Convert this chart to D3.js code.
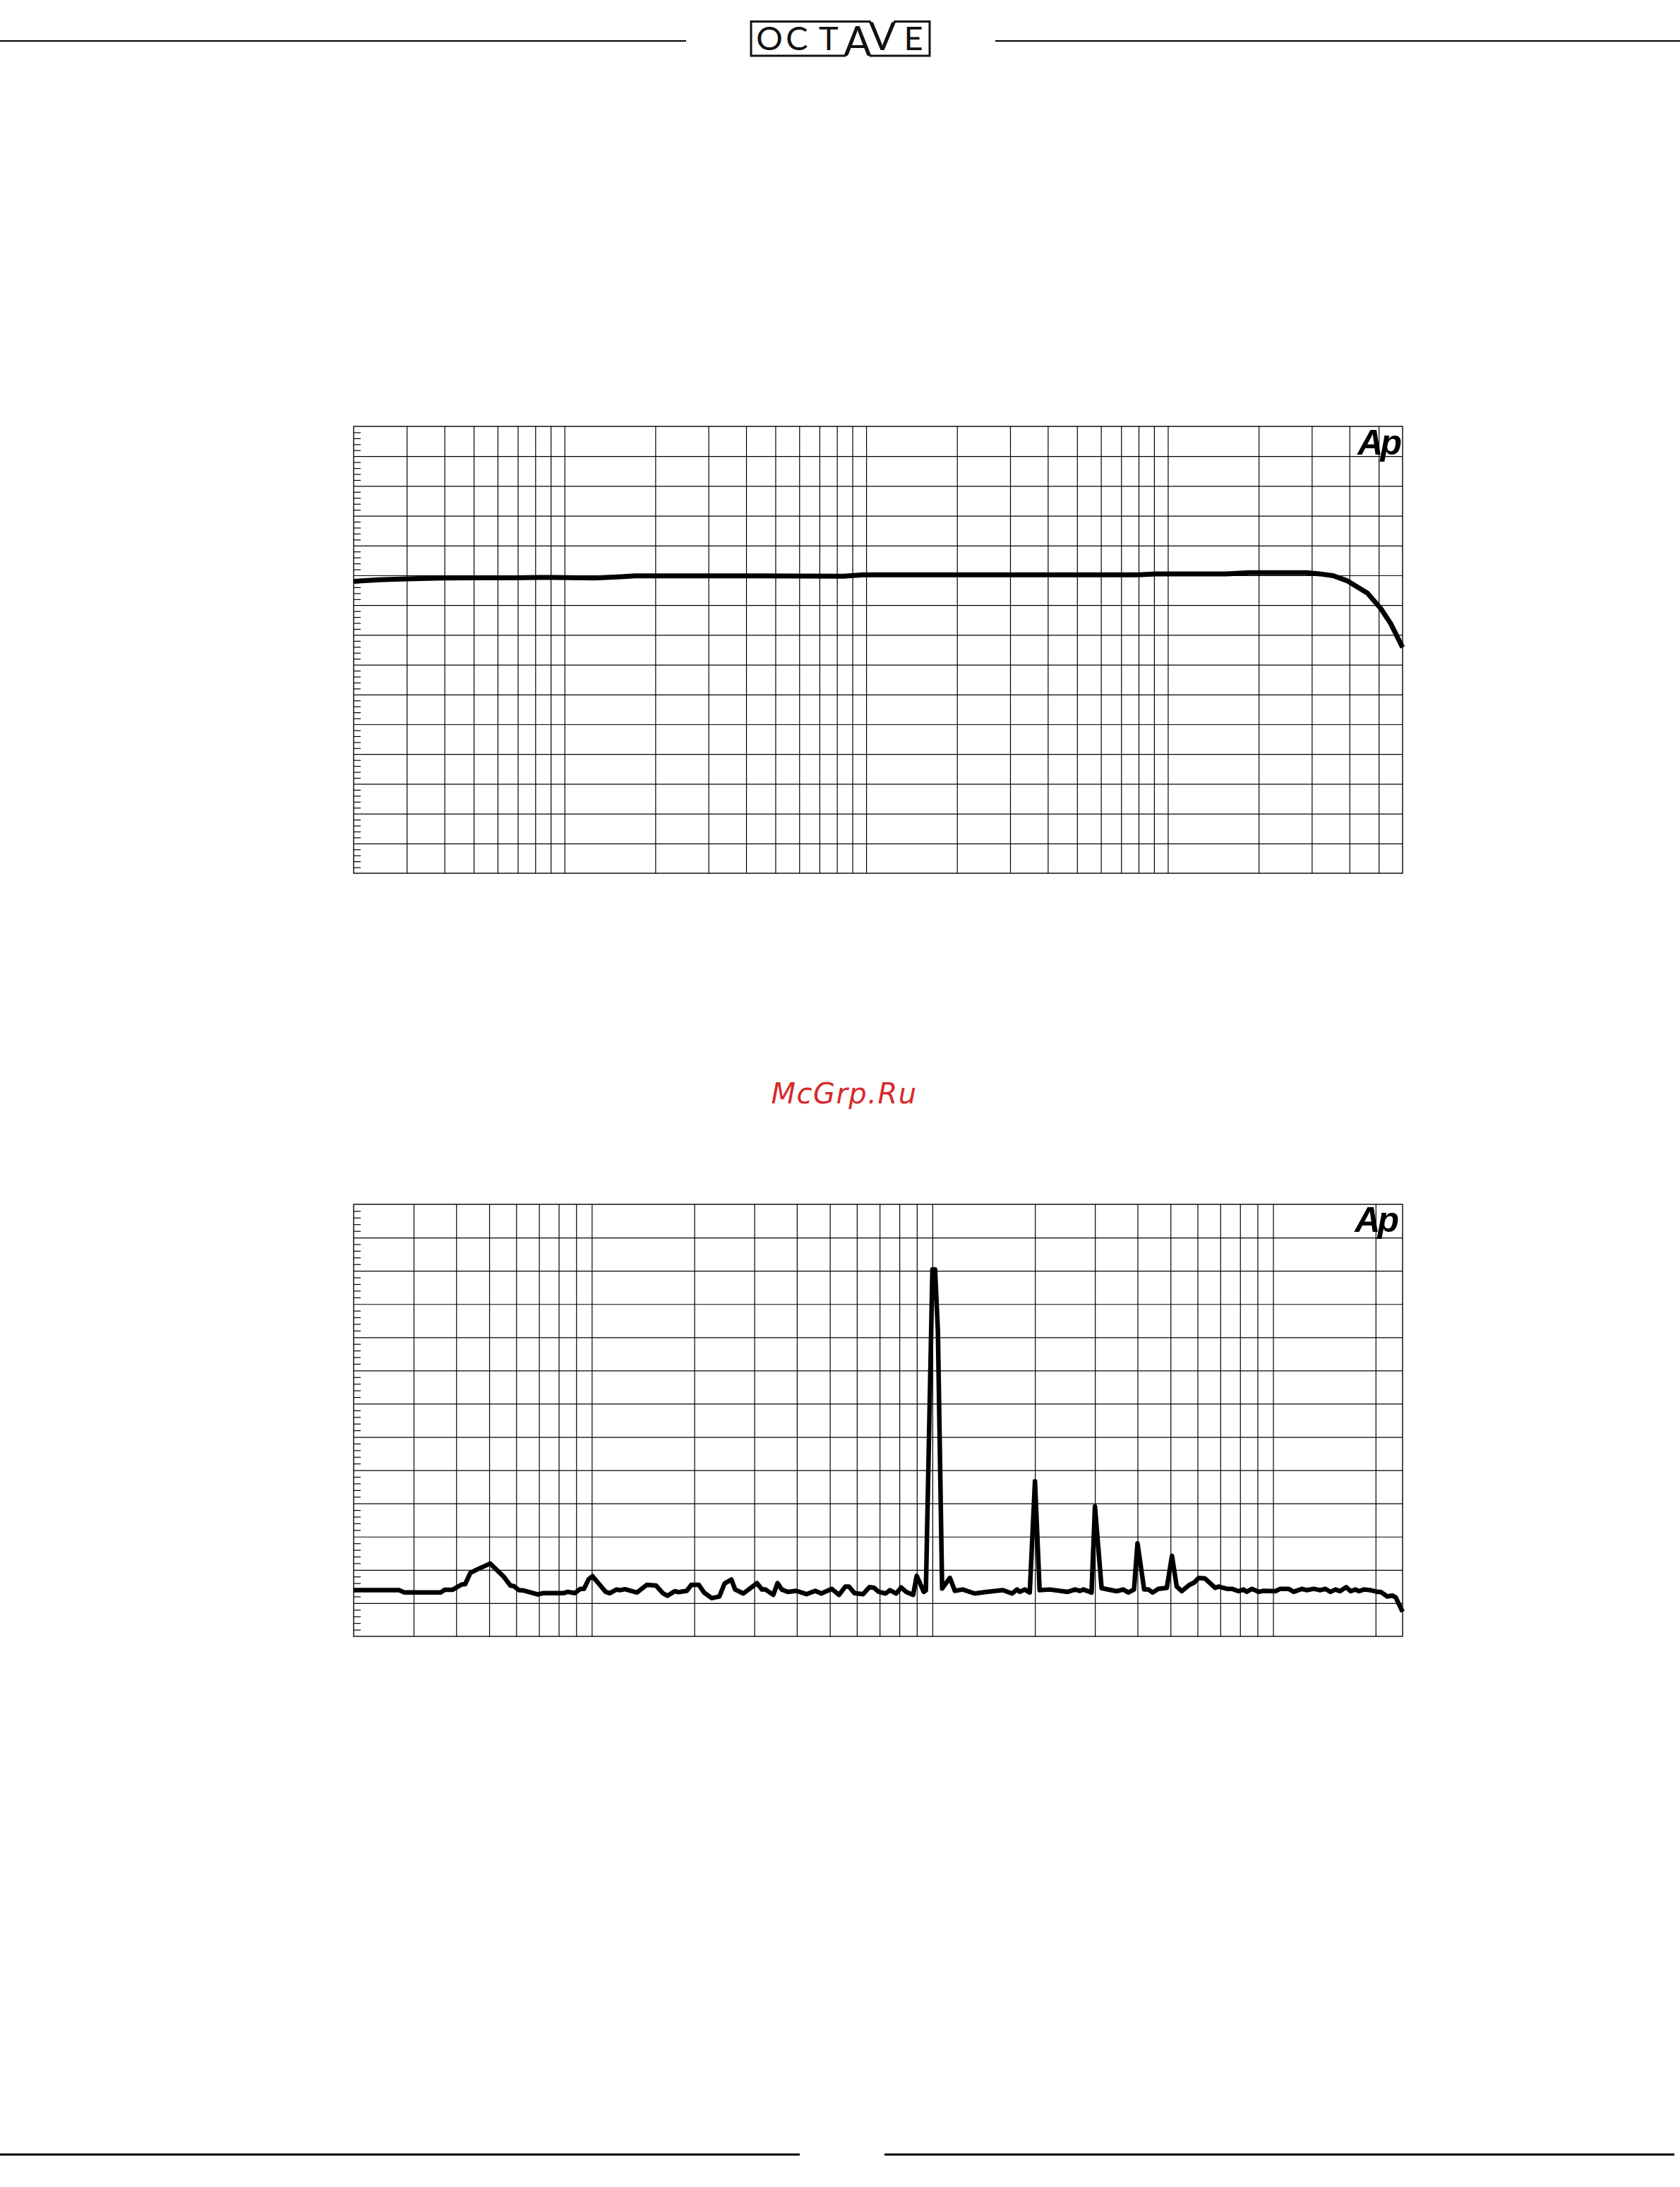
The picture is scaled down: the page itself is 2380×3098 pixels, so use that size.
<!DOCTYPE html>
<html>
<head>
<meta charset="utf-8">
<script src="https://cdn.jsdelivr.net/npm/d3@7"></script>
<style>
html,body{margin:0;padding:0;background:#fff;}
svg{display:block;}
</style>
</head>
<body>
<svg id="page" width="2380" height="3098"></svg>
<script>
// ---------------- DATA ----------------
// Chart 1: frequency response (Hz, dB)
const respFreq  = [20, 24.4, 30, 39.7, 50, 67.9, 92, 126, 154, 171, 432, 840, 979, 2004, 8000, 9140, 15620, 18600, 28870, 31880, 35320, 39250, 45900, 50850, 54800, 60000];
const respLevel = [-0.20, -0.15, -0.12, -0.09, -0.08, -0.08, -0.07, -0.09, -0.05, -0.02, -0.02, -0.03, 0.02, 0.02, 0.02, 0.05, 0.05, 0.09, 0.09, 0.05, -0.01, -0.18, -0.6, -1.12, -1.62, -2.42];
const respGridFreq = [30,40,50,60,70,80,90,100,200,300,400,500,600,700,800,900,1000,2000,3000,4000,5000,6000,7000,8000,9000,10000,20000,30000,40000,50000];

// Chart 2: FFT spectrum (Hz, dB)
const fftFreq = [20, 27.2, 28.2, 36.0, 37.0, 39.0, 41.5, 42.5, 44.0, 45.8, 50.3, 55.0, 57.7, 59.1, 61.1, 63.2, 69.5, 71.9, 82.6, 85.0, 89.2, 92.6, 94.9, 97.9, 100.5, 104.2, 109.8, 112.9, 118.2, 121.0, 125.1, 135.7, 145.1, 154.4, 161.7, 166.7, 175.3, 179.5, 190.1, 196.0, 206.2, 213.6, 225.1, 236.9, 245.4, 256.9, 263.6, 278.6, 305.6, 316.0, 323.6, 341.1, 351.0, 361.2, 376.4, 398.7, 426.9, 453.0, 472.0, 506.3, 531.9, 555.2, 568.6, 590.7, 625.6, 653.0, 675.2, 694.9, 728.8, 750.1, 783.0, 809.6, 837.1, 878.0, 899.2, 943.2, 956.8, 1000, 1018, 1037.8, 1067.9, 1125.5, 1163.8, 1226.7, 1330.4, 1442.9, 1610.5, 1713.6, 1772.0, 1806.1, 1867.5, 1930.9, 2000, 2064.2, 2207.0, 2498.6, 2621, 2710, 2776, 2932, 3000, 3138, 3474, 3633, 3759, 3906, 4000, 4184, 4306, 4431, 4604, 4876, 5050, 5214, 5392, 5683, 5868, 6048, 6313, 6763, 6913, 7320, 7570, 7921, 8194, 8368, 8673, 9074, 9383, 10158, 10503, 11117, 11501, 12144, 12558, 13171, 13750, 14252, 14742, 15251, 15718, 16408, 16884, 17458, 17880, 18487, 19298, 20240, 20680, 21640, 22376, 22918, 24000];
const fftLevel = [-96.1, -96.1, -96.8, -96.8, -96.0, -96.0, -94.4, -94.3, -90.9, -90.0, -88.1, -91.9, -94.7, -94.9, -96.1, -96.2, -97.4, -97.0, -97.0, -96.6, -97.0, -95.7, -95.7, -92.8, -91.9, -93.8, -96.6, -97.0, -95.9, -96.1, -95.8, -96.8, -94.5, -94.7, -97.0, -97.8, -96.4, -96.7, -96.3, -94.5, -94.5, -96.8, -98.5, -98.0, -94.1, -92.9, -95.9, -97.1, -94.0, -95.9, -95.9, -97.5, -94.0, -95.9, -96.6, -96.3, -97.3, -96.3, -97.1, -95.7, -97.5, -95.0, -95.0, -97.0, -97.3, -95.2, -95.4, -96.6, -97.1, -96.1, -97.1, -95.3, -96.6, -97.5, -91.8, -96.6, -96.2, 0.4, 0.4, -18.1, -95.6, -92.4, -96.3, -95.9, -97.1, -96.6, -96.1, -97.1, -95.9, -96.6, -95.9, -96.8, -63.3, -96.1, -95.9, -96.6, -95.9, -96.3, -95.9, -96.8, -70.9, -95.5, -96.4, -95.9, -96.8, -95.9, -82.0, -95.9, -95.9, -96.8, -95.7, -95.4, -85.8, -95.0, -96.4, -94.5, -93.8, -92.4, -92.6, -95.4, -95.0, -95.7, -95.7, -96.4, -95.9, -96.6, -95.7, -96.6, -96.3, -96.4, -95.7, -95.7, -96.6, -95.7, -96.1, -95.7, -96.1, -95.7, -96.6, -95.9, -96.4, -95.2, -96.4, -95.9, -96.4, -95.9, -96.1, -96.6, -96.6, -98.0, -97.7, -98.3, -102.6];
const fftGridFreq = [30,40,50,60,70,80,90,100,200,300,400,500,600,700,800,900,1000,2000,3000,4000,5000,6000,7000,8000,9000,10000,20000];

const logoText = "OCTAVE";
const badgeText = "Ap";
const watermarkText = "McGrp.Ru";

// ---------------- DRAW ----------------
const svg = d3.select("#page");
svg.append("rect").attr("width", 2380).attr("height", 3098).attr("fill", "#fff");

// header rules
svg.append("line").attr("x1", 0).attr("x2", 972).attr("y1", 58).attr("y2", 58)
  .attr("stroke", "#000").attr("stroke-width", 2);
svg.append("line").attr("x1", 1410).attr("x2", 2380).attr("y1", 58).attr("y2", 58)
  .attr("stroke", "#000").attr("stroke-width", 2);

// footer rules
svg.append("line").attr("x1", 0).attr("x2", 1133).attr("y1", 3052).attr("y2", 3052)
  .attr("stroke", "#000").attr("stroke-width", 3);
svg.append("line").attr("x1", 1253).attr("x2", 2372).attr("y1", 3052).attr("y2", 3052)
  .attr("stroke", "#000").attr("stroke-width", 3);

// logo
const logo = svg.append("g").attr("class", "logo");
const lt = logo.append("text")
  .attr("font-family", "Lato, 'DejaVu Sans', sans-serif")
  .attr("font-weight", 400)
  .attr("fill", "#111")
  .attr("text-anchor", "middle");
const letterSpec = [
  {c: "O", x: 1090, y: 71, s: 47},
  {c: "C", x: 1129, y: 71, s: 47},
  {c: "T", x: 1174, y: 71, s: 47},
  {c: "A", x: 1215, y: 79, s: 58},
  {c: "V", x: 1250, y: 71, s: 57},
  {c: "E", x: 1294, y: 71, s: 47}
];
letterSpec.forEach((d, i) => {
  lt.append("tspan").attr("x", d.x).attr("y", d.y).attr("font-size", d.s).text(logoText[i]);
});
// box with openings for A (bottom) and V (top)
const aExt = lt.node().getExtentOfChar(3);
const vExt = lt.node().getExtentOfChar(4);
const aL = aExt.x + 3, aR = aExt.x + aExt.width - 3;
const vL = vExt.x + 3, vR = vExt.x + vExt.width - 3;
const bx0 = 1064, bx1 = 1317, by0 = 30.5, by1 = 79;
logo.append("path")
  .attr("d", `M${vL},${by0} L${bx0},${by0} L${bx0},${by1} L${aL},${by1} M${aR},${by1} L${bx1},${by1} L${bx1},${by0} L${vR},${by0}`)
  .attr("fill", "none").attr("stroke", "#111").attr("stroke-width", 3);

// chart builder
function drawChart(cfg) {
  const g = svg.append("g");
  const x = d3.scaleLog().domain(cfg.xDomain).range([cfg.x0, cfg.x1]);
  const y = d3.scaleLinear().domain(cfg.yDomain).range([cfg.y1, cfg.y0]);
  const W = cfg.x1 - cfg.x0, H = cfg.y1 - cfg.y0;

  const styleTicks = sel => {
    sel.select(".domain").remove();
    sel.selectAll(".tick line").attr("stroke", "#000").attr("stroke-width", 1.2);
    sel.selectAll(".tick text").remove();
  };

  // vertical grid
  g.append("g").attr("transform", `translate(0,${cfg.y1})`)
    .call(d3.axisBottom(x).tickValues(cfg.gridFreq).tickSize(-H).tickFormat(""))
    .call(styleTicks);

  // horizontal grid
  const major = d3.range(cfg.yDomain[0] + cfg.yStep, cfg.yDomain[1] - cfg.yStep / 2, cfg.yStep);
  g.append("g").attr("transform", `translate(${cfg.x0},0)`)
    .call(d3.axisLeft(y).tickValues(major).tickSize(-W).tickFormat(""))
    .call(styleTicks);

  // minor ticks on left edge
  const nMinor = Math.round((cfg.yDomain[1] - cfg.yDomain[0]) / cfg.minorStep);
  const minor = d3.range(1, nMinor).filter(i => i % Math.round(cfg.yStep / cfg.minorStep) !== 0)
    .map(i => cfg.yDomain[0] + i * cfg.minorStep);
  g.append("g").attr("transform", `translate(${cfg.x0},0)`)
    .call(d3.axisLeft(y).tickValues(minor).tickSize(-10).tickFormat(""))
    .call(styleTicks);

  // frame
  g.append("rect").attr("x", cfg.x0).attr("y", cfg.y0).attr("width", W).attr("height", H)
    .attr("fill", "none").attr("stroke", "#000").attr("stroke-width", 1.4);

  // curve
  const pts = cfg.freq.map((f, i) => ({f, v: cfg.level[i]}));
  g.append("path").datum(pts)
    .attr("d", d3.line().x(d => x(d.f)).y(d => y(d.v)))
    .attr("fill", "none").attr("stroke", "#000")
    .attr("stroke-width", cfg.lw).attr("stroke-linejoin", "round").attr("stroke-linecap", "butt");

  // Ap badge
  g.append("text").attr("x", cfg.badgeX).attr("y", cfg.badgeY)
    .attr("text-anchor", "end")
    .attr("font-family", "'Liberation Sans', Arial, sans-serif")
    .attr("font-weight", "bold").attr("font-style", "italic")
    .attr("font-size", 50).attr("letter-spacing", -4)
    .attr("fill", "#000").text(badgeText);
}

drawChart({
  x0: 501, x1: 1987, y0: 604, y1: 1237,
  xDomain: [20, 60000], yDomain: [-10, 5], yStep: 1, minorStep: 0.2,
  gridFreq: respGridFreq, freq: respFreq, level: respLevel, lw: 7,
  badgeX: 1982, badgeY: 644
});

drawChart({
  x0: 501, x1: 1987, y0: 1706, y1: 2318,
  xDomain: [20, 24000], yDomain: [-110, 20], yStep: 10, minorStep: 2,
  gridFreq: fftGridFreq, freq: fftFreq, level: fftLevel, lw: 6.5,
  badgeX: 1978, badgeY: 1745
});

// watermark
svg.append("text").attr("x", 1196).attr("y", 1563)
  .attr("text-anchor", "middle")
  .attr("font-family", "'DejaVu Sans', sans-serif")
  .attr("font-style", "italic")
  .attr("font-size", 40).attr("letter-spacing", 1.5)
  .attr("fill", "#d62a2a").text(watermarkText);
</script>
</body>
</html>
